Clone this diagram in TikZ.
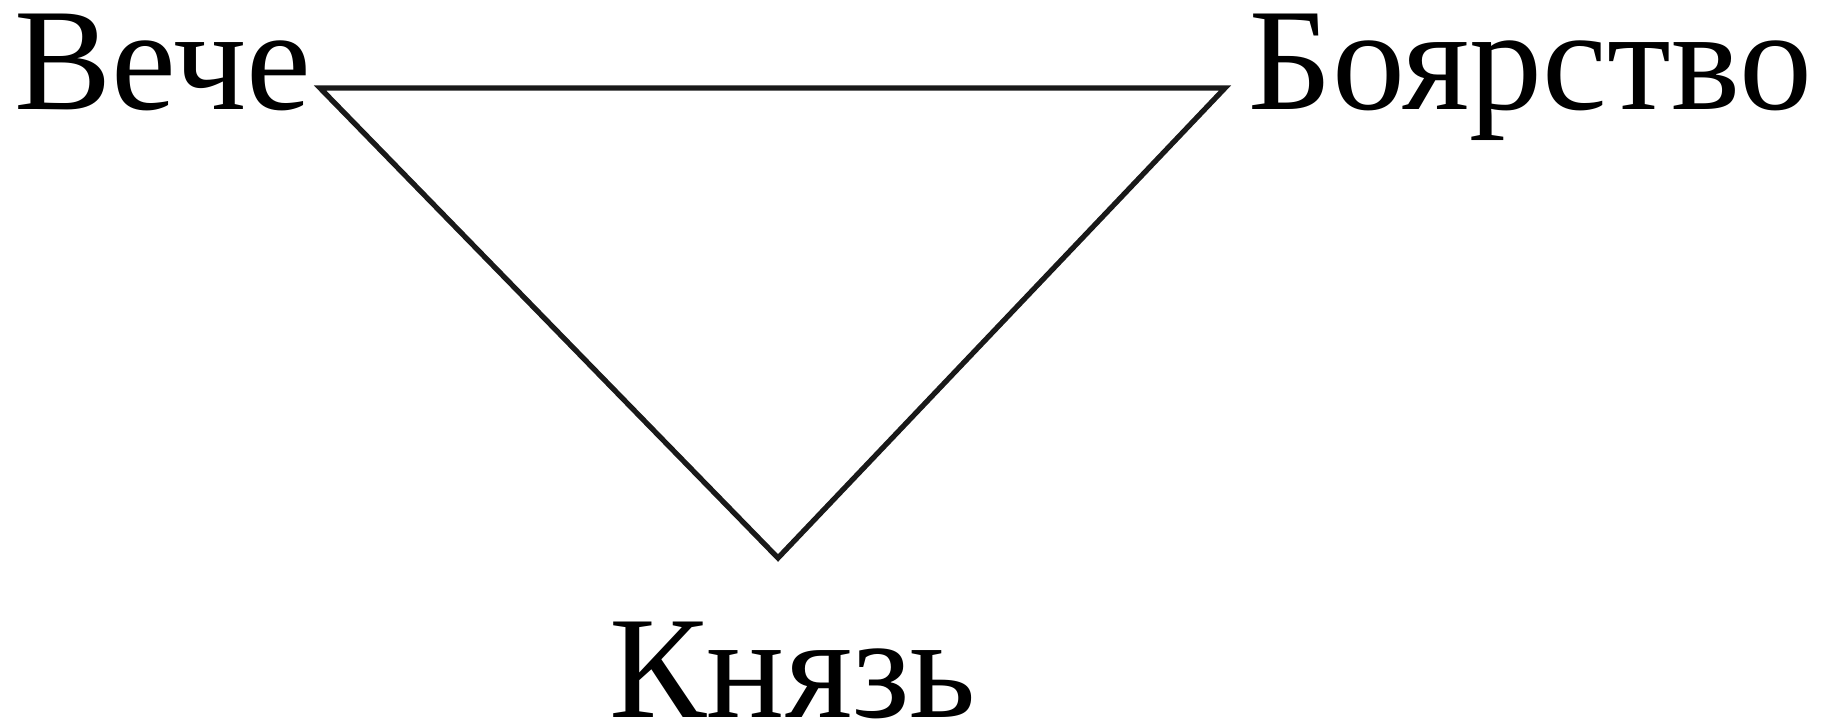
\documentclass[tikz,border=0pt]{standalone}
\usepackage{fontspec}
\setmainfont{Liberation Serif}
\usepackage{tikz}
\usetikzlibrary{calc}

\tikzset{
  label text/.style={anchor=base west, inner sep=0pt, font=\fontsize{41.5}{49}\selectfont},
  side/.style={line width=1.5pt, black!90}
}

\begin{document}
\begin{tikzpicture}
  \useasboundingbox (0,0) rectangle (18.21,7.28);

  % Corners of the triangle
  \coordinate (veche-pt) at (3.20, 6.40);
  \coordinate (boyar-pt) at (12.25, 6.40);
  \coordinate (knyaz-pt) at (7.78, 1.70);

  % Labels
  \node[label text] (veche) at (0.14, 6.18) {Вече};
  \node[label text] (boyar) at (12.48, 6.18) {Боярство};
  \node[label text] (knyaz) at (6.09, 0.10) {Князь};

  % Triangle
  \draw[side] (veche-pt) -- (boyar-pt) -- (knyaz-pt) -- cycle;

\end{tikzpicture}
\end{document}
